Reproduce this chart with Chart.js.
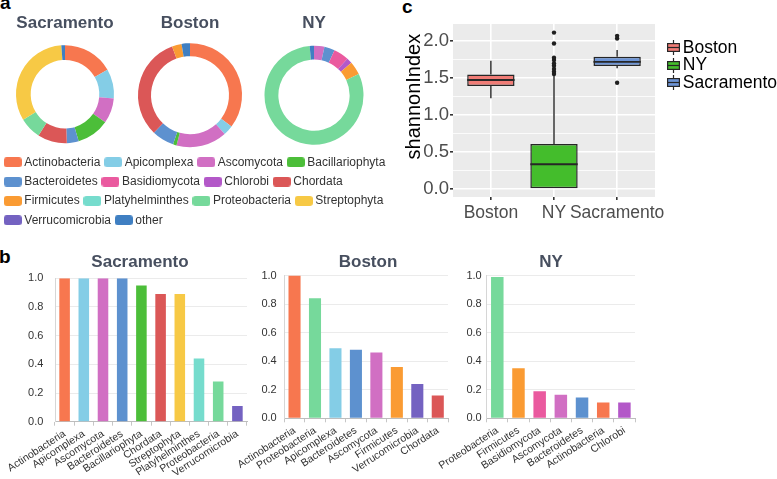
<!DOCTYPE html>
<html>
<head>
<meta charset="utf-8">
<title>Community composition and diversity</title>
<script src="https://cdn.jsdelivr.net/npm/chart.js@4.4.1/dist/chart.umd.min.js"></script>
<style>
  html, body { margin: 0; padding: 0; background: #fff; }
  body { position: relative; width: 777px; height: 479px; overflow: hidden; font-family: "Liberation Sans", Arial, sans-serif; }
  canvas { position: absolute; }
  .tag { position: absolute; font-weight: bold; font-size: 19px; line-height: 19px; color: #000; }
</style>
</head>
<body>
<div class="tag" style="left:0px;top:-7px">a</div>
<div class="tag" style="left:-1px;top:247px">b</div>
<div class="tag" style="left:402px;top:-3px">c</div>
<script>
// phylum palette, shared by every panel
const phyla = ['Actinobacteria', 'Apicomplexa', 'Ascomycota', 'Bacillariophyta', 'Bacteroidetes', 'Basidiomycota',
  'Chlorobi', 'Chordata', 'Firmicutes', 'Platyhelminthes', 'Proteobacteria', 'Streptophyta', 'Verrucomicrobia', 'other'];
const phylaColors = ['#f7774f', '#84cde6', '#d16fc3', '#4cbe39', '#5d91cf', '#ea5a9f',
  '#b358c8', '#db5757', '#fa9b33', '#76dccd', '#76d99b', '#f7c945', '#7462c1', '#3f7fc2'];

// a: relative abundance (%)
const sacPieLabels = ['Actinobacteria', 'Apicomplexa', 'Ascomycota', 'Bacillariophyta', 'Bacteroidetes', 'Chordata', 'Proteobacteria', 'Streptophyta', 'other'];
const sacPieValues = [16.7, 9.7, 8.3, 10.8, 3.9, 9.7, 7.2, 32.5, 1.2];
const bosPieLabels = ['Actinobacteria', 'Apicomplexa', 'Ascomycota', 'Bacillariophyta', 'Bacteroidetes', 'Chordata', 'Firmicutes', 'other'];
const bosPieValues = [35.3, 3.1, 15.8, 1.1, 6.9, 32.2, 3.0, 2.6];
const nyPieLabels = ['Ascomycota', 'Bacteroidetes', 'Basidiomycota', 'Chlorobi', 'Firmicutes', 'Proteobacteria', 'other'];
const nyPieValues = [3.4, 3.4, 5.0, 1.8, 4.4, 80.6, 1.4];

// b: prevalence
const barTicks = [0, 0.2, 0.4, 0.6, 0.8, 1.0];
const sacBarLabels = ['Actinobacteria', 'Apicomplexa', 'Ascomycota', 'Bacteroidetes', 'Bacillariophyta', 'Chordata', 'Streptophyta', 'Platyhelminthes', 'Proteobacteria', 'Verrucomicrobia'];
const sacBarValues = [1.0, 1.0, 1.0, 1.0, 0.95, 0.89, 0.89, 0.44, 0.28, 0.11];
const bosBarLabels = ['Actinobacteria', 'Proteobacteria', 'Apicomplexa', 'Bacteroidetes', 'Ascomycota', 'Firmicutes', 'Verrucomicrobia', 'Chordata'];
const bosBarValues = [1.0, 0.84, 0.49, 0.48, 0.46, 0.36, 0.24, 0.16];
const nyBarLabels = ['Proteobacteria', 'Firmicutes', 'Basidiomycota', 'Ascomycota', 'Bacteroidetes', 'Actinobacteria', 'Chlorobi'];
const nyBarValues = [0.99, 0.35, 0.19, 0.165, 0.145, 0.11, 0.11];

// c: shannon index boxplot
const shannonGroups = ['Boston', 'NY', 'Sacramento'];
const shannonTicks = [0, 0.5, 1.0, 1.5, 2.0];
const whiskerLow = [1.225, 0.0, 1.63];
const quart1 = [1.39, 0.0, 1.66];
const median = [1.47, 0.335, 1.715];
const quart3 = [1.545, 0.61, 1.785];
const whiskerHigh = [1.73, 1.525, 1.875];
const bostonOutliers = [];
const nyOutliers = [1.552, 1.583, 1.619, 1.664, 1.695, 1.74, 1.771, 1.964, 2.11];
const sacramentoOutliers = [1.435, 2.031, 2.066];
const boxFill = ['#f07c76', '#44bd2c', '#6d94d5'];

const titleColor = '#474f5f';
const darkLine = '#262626';

Chart.defaults.font.family = '"Liberation Sans", Arial, sans-serif';
Chart.defaults.animation = false;
Chart.defaults.events = [];
Chart.defaults.plugins.tooltip.enabled = false;
Chart.defaults.plugins.legend.display = false;

function colorOf(name) {
  return phylaColors[phyla.indexOf(name)];
}

function addCanvas(left, top, w, h) {
  const c = document.createElement('canvas');
  c.width = w;
  c.height = h;
  c.style.left = left + 'px';
  c.style.top = top + 'px';
  c.style.width = w + 'px';
  c.style.height = h + 'px';
  document.body.appendChild(c);
  return c;
}

// ---- a: doughnuts ----
function donut(cx, cy, title, labels, values, radius, cutout) {
  const top = 13, w = 130, titleH = 17 * 1.2;
  const h = Math.round(2 * (cy - top - titleH) + titleH);
  const c = addCanvas(Math.round(cx - w / 2), top, w, h);
  new Chart(c, {
    type: 'doughnut',
    data: {
      labels: labels,
      datasets: [{ data: values, backgroundColor: labels.map(colorOf), borderWidth: 0 }]
    },
    options: {
      responsive: false,
      radius: radius,
      cutout: cutout,
      plugins: {
        title: { display: true, text: title, color: titleColor, font: { size: 17, weight: 'bold' }, padding: 0 }
      }
    }
  });
}

donut(65, 94, 'Sacramento', sacPieLabels, sacPieValues, 49, '70%');
donut(190, 95, 'Boston', bosPieLabels, bosPieValues, 52, '75%');
donut(314, 95, 'NY', nyPieLabels, nyPieValues, 49.5, '72%');

function swatch(color) {
  const s = document.createElement('canvas');
  s.width = 18;
  s.height = 10;
  const g = s.getContext('2d');
  const r = 3;
  g.fillStyle = color;
  g.beginPath();
  g.moveTo(r, 0);
  g.lineTo(18 - r, 0);
  g.arcTo(18, 0, 18, r, r);
  g.lineTo(18, 10 - r);
  g.arcTo(18, 10, 18 - r, 10, r);
  g.lineTo(r, 10);
  g.arcTo(0, 10, 0, 10 - r, r);
  g.lineTo(0, r);
  g.arcTo(0, 0, r, 0, r);
  g.closePath();
  g.fill();
  return s;
}

// legend only; the chart area itself stays empty
new Chart(addCanvas(0, 149, 405, 220), {
  type: 'bar',
  data: { labels: [], datasets: [] },
  options: {
    responsive: false,
    scales: { x: { display: false }, y: { display: false } },
    plugins: {
      legend: {
        display: true,
        position: 'top',
        align: 'start',
        labels: {
          usePointStyle: true,
          boxWidth: 11,
          boxHeight: 10,
          padding: 7.3,
          color: '#333',
          font: { size: 12 },
          generateLabels: () => phyla.map((p, i) => ({
            text: p, fontColor: '#333', fillStyle: phylaColors[i], strokeStyle: phylaColors[i],
            lineWidth: 0, pointStyle: swatch(phylaColors[i]), hidden: false, datasetIndex: i
          }))
        }
      }
    }
  }
});

// ---- b: prevalence bars ----
function barPanel(o) {
  const top = 252, h = 479 - top, titleH = 17 * 1.2;
  const axisW = o.plotLeft - o.left;
  const w = Math.round(2 * (o.titleX - o.left));
  const rightW = o.left + w - o.plotRight;
  new Chart(addCanvas(o.left, top, w, h), {
    type: 'bar',
    data: {
      labels: o.labels,
      datasets: [{
        data: o.values, backgroundColor: o.labels.map(colorOf), borderWidth: 0,
        categoryPercentage: 1, barPercentage: o.barPct
      }]
    },
    options: {
      responsive: false,
      layout: { padding: 0 },
      plugins: {
        title: {
          display: true, text: o.title, color: titleColor, font: { size: 17, weight: 'bold' },
          padding: { top: 0, bottom: o.plotTop - top - titleH }
        }
      },
      scales: {
        x: {
          grid: { drawOnChartArea: false, tickLength: 4, color: '#c6c6c6' },
          border: { color: '#bdbdbd' },
          ticks: { autoSkip: false, minRotation: 33, maxRotation: 33, padding: 2, color: '#333', font: { size: 10.5 } },
          afterFit: s => { s.height = 479 - o.plotBottom; s.paddingLeft = 0; s.paddingRight = 0; }
        },
        y: {
          min: 0,
          max: 1,
          afterBuildTicks: s => { s.ticks = barTicks.map(v => ({ value: v })); },
          grid: { color: '#ebebeb', drawTicks: false },
          border: { color: '#d6d6d6' },
          ticks: { padding: o.tickPad, color: '#333', font: { size: 11 }, callback: v => v.toFixed(1) },
          afterFit: s => { s.width = axisW; }
        },
        spacer: {
          type: 'linear',
          position: 'right',
          grid: { display: false },
          border: { display: false },
          ticks: { display: false },
          afterFit: s => { s.width = rightW; }
        }
      }
    }
  });
}

barPanel({ title: 'Sacramento', labels: sacBarLabels, values: sacBarValues, left: 0, titleX: 140,
  plotLeft: 55, plotRight: 247, plotTop: 278.3, plotBottom: 421.7, tickPad: 11.7, barPct: 0.55 });
barPanel({ title: 'Boston', labels: bosBarLabels, values: bosBarValues, left: 225, titleX: 368,
  plotLeft: 284.3, plotRight: 448, plotTop: 275.5, plotBottom: 418.3, tickPad: 7.6, barPct: 0.59 });
barPanel({ title: 'NY', labels: nyBarLabels, values: nyBarValues, left: 430, titleX: 550.8,
  plotLeft: 486.7, plotRight: 635, plotTop: 275.5, plotBottom: 418.3, tickPad: 5, barPct: 0.59 });

// ---- c: shannon index ----
const xPos = shannonGroups.map((g, i) => i + 1);
const outlierPoints = [bostonOutliers, nyOutliers, sacramentoOutliers]
  .flatMap((list, i) => list.map(v => ({ x: i + 1, y: v })));
const isMajor = v => shannonTicks.some(t => Math.abs(t - v) < 1e-9);

new Chart(addCanvas(390, 0, 290, 240), {
  type: 'bar',
  data: {
    datasets: [
      { type: 'scatter', data: outlierPoints, pointRadius: 2.2, backgroundColor: '#1f1f1f', borderWidth: 0, order: 0 },
      { data: xPos.map((x, i) => ({ x: x, y: [median[i] - 0.013, median[i] + 0.013] })),
        backgroundColor: darkLine, borderWidth: 0, barPercentage: 0.75, categoryPercentage: 1, grouped: false, order: 1 },
      { data: xPos.map((x, i) => ({ x: x, y: [quart1[i], quart3[i]] })),
        backgroundColor: boxFill, borderColor: darkLine, borderWidth: 1.5, borderSkipped: false,
        barPercentage: 0.75, categoryPercentage: 1, grouped: false, order: 2 },
      { data: xPos.map((x, i) => ({ x: x, y: [whiskerLow[i], quart1[i]] })),
        backgroundColor: darkLine, borderWidth: 0, maxBarThickness: 1.4, grouped: false, order: 3 },
      { data: xPos.map((x, i) => ({ x: x, y: [quart3[i], whiskerHigh[i]] })),
        backgroundColor: darkLine, borderWidth: 0, maxBarThickness: 1.4, grouped: false, order: 3 }
    ]
  },
  options: {
    responsive: false,
    layout: { padding: { top: 24, right: 25, left: 0, bottom: 0 } },
    scales: {
      x: {
        type: 'linear',
        offset: false,
        min: 0.4,
        max: 3.6,
        afterBuildTicks: s => { s.ticks = xPos.map(v => ({ value: v })); },
        ticks: { callback: v => shannonGroups[v - 1], font: { size: 17.5 }, color: '#4d4d4d', padding: 3, maxRotation: 0, autoSkip: false },
        grid: { offset: false, color: '#ffffff', lineWidth: 1.6, tickLength: 3, tickColor: '#333' },
        border: { display: false },
        afterFit: s => { s.height = 43; s.paddingLeft = 0; s.paddingRight = 0; }
      },
      y: {
        min: -0.106,
        max: 2.226,
        afterBuildTicks: s => {
          const t = [];
          shannonTicks.forEach((v, i) => {
            t.push({ value: v });
            if (i < shannonTicks.length - 1) t.push({ value: (v + shannonTicks[i + 1]) / 2 });
          });
          s.ticks = t;
        },
        ticks: { callback: v => isMajor(v) ? v.toFixed(1) : '', font: { size: 18.5 }, color: '#4d4d4d', padding: 1, autoSkip: false },
        grid: {
          color: '#ffffff',
          lineWidth: c => isMajor(c.tick.value) ? 1.6 : 0.8,
          tickLength: 3,
          tickColor: c => isMajor(c.tick.value) ? '#333' : 'rgba(0,0,0,0)'
        },
        border: { display: false },
        title: { display: true, text: '\u00a0\u00a0\u00a0\u00a0\u00a0shannonIndex', color: '#000', font: { size: 20 }, padding: { top: 12, bottom: 0 } },
        afterFit: s => { s.width = 63; }
      }
    }
  },
  plugins: [{
    id: 'panelBg',
    beforeDraw(chart) {
      const a = chart.chartArea, ctx = chart.ctx;
      ctx.save();
      ctx.fillStyle = '#ebebeb';
      ctx.fillRect(a.left, a.top, a.width, a.height);
      ctx.restore();
    }
  }]
});

function boxGlyph(fill) {
  const g = document.createElement('canvas');
  g.width = 13;
  g.height = 15;
  const x = g.getContext('2d');
  x.strokeStyle = darkLine;
  x.lineWidth = 1.2;
  x.beginPath();
  x.moveTo(6.5, 0);
  x.lineTo(6.5, 15);
  x.stroke();
  x.fillStyle = fill;
  x.fillRect(0.6, 3.6, 11.8, 7.8);
  x.strokeRect(0.6, 3.6, 11.8, 7.8);
  x.beginPath();
  x.moveTo(0.6, 7.5);
  x.lineTo(12.4, 7.5);
  x.stroke();
  return g;
}
const boxKeys = boxFill.map(boxGlyph);

// vertical legend; keys are drawn next to each legend entry after the legend itself
new Chart(addCanvas(660, 39, 560, 160), {
  type: 'bar',
  data: { labels: [], datasets: [] },
  options: {
    responsive: false,
    layout: { padding: { left: 14 } },
    scales: { x: { display: false }, y: { display: false } },
    plugins: {
      legend: {
        display: true,
        position: 'left',
        align: 'start',
        labels: {
          boxWidth: 0,
          padding: 0,
          color: '#000',
          font: { size: 17.5 },
          generateLabels: () => shannonGroups.map((g, i) => ({
            text: g, fontColor: '#000', fillStyle: boxFill[i], strokeStyle: darkLine,
            lineWidth: 0, hidden: false, datasetIndex: i
          }))
        }
      }
    }
  },
  plugins: [{
    id: 'boxKeys',
    afterDraw(chart) {
      const ctx = chart.ctx;
      chart.legend.legendHitBoxes.forEach((hb, i) => {
        ctx.drawImage(boxKeys[i], Math.round(hb.left - 7), Math.round(hb.top + hb.height / 2 - 7.5));
      });
    }
  }]
});
</script>
</body>
</html>
